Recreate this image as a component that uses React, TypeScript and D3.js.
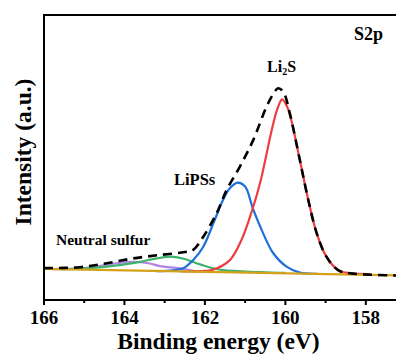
import React from "react";
import * as d3 from "d3";

// ---- data (binding energy in eV, intensity in arbitrary units) ----
const majorTicks = [166, 164, 162, 160, 158];
const minorTicks = [165, 163, 161, 159];

const baselineE = [166, 157.2];
const baselineI = [10.9, 8.6];

const li2sE = [162.6, 162.0, 161.8, 161.38, 161.09, 160.81, 160.61, 160.34, 160.2, 160.08, 159.95, 159.85, 159.64, 159.43, 159.22, 158.98, 158.69, 158.4, 157.9];
const li2sI = [10.0, 10.2, 10.6, 14.0, 21.1, 32.2, 42.1, 59.6, 67.0, 70.4, 67.6, 63.0, 49.1, 35.1, 23.4, 15.2, 10.5, 9.4, 9.1];

const lipsE = [163.2, 162.8, 162.54, 162.29, 162.04, 161.79, 161.55, 161.38, 161.19, 161.0, 160.81, 160.59, 160.3, 159.97, 159.64, 159.2];
const lipsI = [10.1, 10.4, 11.1, 14.0, 18.7, 26.9, 35.1, 39.2, 41.2, 39.8, 32.2, 24.6, 16.4, 11.7, 9.6, 9.2];

const greenE = [165.6, 165.0, 164.44, 164.0, 163.61, 163.2, 162.83, 162.5, 162.21, 161.9, 161.55, 160.63, 160.0];
const greenI = [10.8, 11.1, 11.7, 12.5, 13.4, 14.6, 15.2, 14.4, 12.9, 11.5, 10.5, 9.8, 9.5];

const purpleE = [165.8, 165.11, 164.61, 164.2, 163.78, 163.4, 163.12, 162.62, 162.2];
const purpleI = [10.85, 11.1, 11.9, 12.9, 13.4, 12.9, 11.9, 11.1, 10.0];

const envE = [166, 165.11, 164.44, 163.78, 163.12, 162.45, 162.29, 162.04, 161.71, 161.46, 161.13, 160.8, 160.47, 160.3, 160.18, 160.05, 159.89, 159.64, 159.43, 159.22, 158.98, 158.69, 158.4, 157.2];
const envI = [11.2, 11.5, 12.9, 14.6, 15.8, 16.9, 17.6, 22.2, 30.4, 38.6, 46.8, 56.1, 67.8, 72.3, 74.3, 73.0, 65.5, 49.1, 35.1, 23.4, 15.2, 10.5, 9.4, 8.6];

const W = 396;
const H = 358;
const FONT = "'Liberation Serif', 'Times New Roman', serif";

export default function App() {
  const x = d3.scaleLinear().domain([166, 157.2]).range([44, 398]);
  const y = d3.scaleLinear().domain([0, 100]).range([300, 15]);

  const line = d3
    .line<[number, number]>()
    .x((d) => x(d[0]))
    .y((d) => y(d[1]))
    .curve(d3.curveCatmullRom.alpha(0.5));

  const zip = (e: number[], v: number[]) => e.map((d, i) => [d, v[i]] as [number, number]);

  const curves = [
    { e: purpleE, v: purpleI, color: "#b183e6" },
    { e: greenE, v: greenI, color: "#3db36b" },
    { e: lipsE, v: lipsI, color: "#1f6fd8" },
    { e: li2sE, v: li2sI, color: "#ee3d42" },
    { e: baselineE, v: baselineI, color: "#d4a21a" },
  ];

  return (
    <svg
      width={W}
      height={H}
      style={{ position: "absolute", left: 0, top: 0, background: "#fff" }}
      fontFamily={FONT}
    >
      {curves.map((c, i) => (
        <path key={i} d={line(zip(c.e, c.v)) || ""} fill="none" stroke={c.color} strokeWidth={2.2} />
      ))}
      <path
        d={line(zip(envE, envI)) || ""}
        fill="none"
        stroke="#000"
        strokeWidth={2.6}
        strokeDasharray="9,6"
      />

      {/* frame */}
      <line x1={44} x2={398} y1={15} y2={15} stroke="#000" strokeWidth={2} />
      <line x1={44} x2={44} y1={14} y2={301} stroke="#000" strokeWidth={2} />
      <line x1={43} x2={398} y1={300} y2={300} stroke="#000" strokeWidth={2} />

      {majorTicks.map((t) => (
        <g key={"M" + t}>
          <line x1={x(t)} x2={x(t)} y1={300} y2={305} stroke="#000" strokeWidth={2} />
          <text x={x(t)} y={324} textAnchor="middle" fontSize={19} fontWeight="bold">
            {t}
          </text>
        </g>
      ))}
      {minorTicks.map((t) => (
        <line key={"m" + t} x1={x(t)} x2={x(t)} y1={300} y2={303} stroke="#000" strokeWidth={2} />
      ))}

      <text x={218.5} y={349} textAnchor="middle" fontSize={23.5} fontWeight="bold">
        Binding energy (eV)
      </text>
      <text
        transform="translate(31,152) rotate(-90)"
        textAnchor="middle"
        fontSize={23.5}
        fontWeight="bold"
      >
        Intensity (a.u.)
      </text>

      <text x={354} y={40} fontSize={18} fontWeight="bold">S2p</text>
      <text x={267} y={72} fontSize={16} fontWeight="bold">
        Li<tspan fontSize={10} dy={3}>2</tspan>
        <tspan dy={-3}>S</tspan>
      </text>
      <text x={174} y={185} fontSize={16.5} fontWeight="bold">LiPSs</text>
      <text x={56} y={245} fontSize={15.5} fontWeight="bold">Neutral sulfur</text>
    </svg>
  );
}
